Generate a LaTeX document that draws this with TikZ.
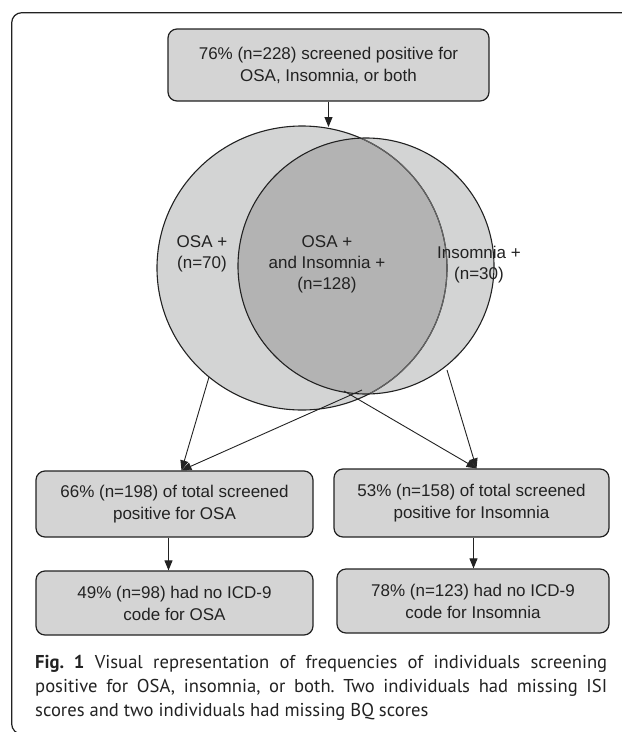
\documentclass[tikz,border=0pt]{standalone}
\usepackage{fontspec}
\setmainfont{Liberation Sans}
\newfontfamily\capfont{PT Sans}
\usetikzlibrary{arrows.meta,positioning}
\definecolor{boxgray}{RGB}{212,212,212}
\definecolor{venlight}{RGB}{211,212,212}
\definecolor{vendark}{RGB}{179,179,179}
\definecolor{ink}{RGB}{34,34,34}
\definecolor{midline}{RGB}{100,100,100}

\begin{document}
\begin{tikzpicture}[x=1pt,y=-1pt,
  box/.style={draw=ink,fill=boxgray,rounded corners=9pt,line width=1.2pt,
    align=center,inner sep=0pt,text=ink,font=\fontsize{17}{22}\selectfont},
  arr/.style={-{Triangle[length=10pt,width=8pt]},line width=0.9pt,draw=ink},
  vlabel/.style={align=center,text=ink,font=\fontsize{17}{21}\selectfont}]

  \useasboundingbox (0,0) rectangle (622,732);
  \draw[ink,line width=1.2pt,rounded corners=10pt]
    (630,12.7) -- (11.7,12.7) -- (11.7,734) -- (630,734);

  \node[box,minimum width=321pt,minimum height=72pt] (top) at (328.5,65)
    {76\% (n=228) screened positive for\\OSA, Insomnia, or both};

  % venn
  \fill[venlight] (302,268) ellipse [x radius=145,y radius=142];
  \fill[venlight] (366,266) circle [radius=128];
  \begin{scope}
    \clip (302,268) ellipse [x radius=145,y radius=142];
    \fill[vendark] (366,266) circle [radius=128];
  \end{scope}
  \draw[ink,line width=1.1pt] (302,268) ellipse [x radius=145,y radius=142];
  \begin{scope}
    \clip (366,266) circle [radius=128];
    \draw[midline,line width=1.1pt] (302,268) ellipse [x radius=145,y radius=142];
  \end{scope}
  \draw[ink,line width=1.1pt] (366,266) circle [radius=128];

  \node[vlabel] (osaonly) at (202,254) {OSA +\\(n=70)};
  \node[vlabel] (both) at (327,264) {OSA +\\and Insomnia +\\(n=128)};
  \node[vlabel] (insonly) at (479,265) {Insomnia +\\(n=30)};

  \coordinate (vtop) at (328.5,127);
  \coordinate (vl) at (209,377);
  \coordinate (vm1) at (362,390);
  \coordinate (vm2) at (344,391);
  \coordinate (vr) at (447,370);

  \node[box,minimum width=277pt,minimum height=66pt] (osa) at (174.5,504)
    {66\% (n=198) of total screened\\positive for OSA};
  \node[box,minimum width=275pt,minimum height=68pt] (ins) at (471.5,503)
    {53\% (n=158) of total screened\\positive for Insomnia};
  \node[box,minimum width=277pt,minimum height=64pt] (osano) at (174.5,603)
    {49\% (n=98) had no ICD-9\\code for OSA};
  \node[box,minimum width=272pt,minimum height=64pt] (insno) at (473,601)
    {78\% (n=123) had no ICD-9\\code for Insomnia};

  \draw[arr] (top.south) -- (vtop);
  \draw[arr] (vl) -- ([xshift=7pt]osa.north);
  \draw[arr] (vm1) -- ([xshift=7pt]osa.north);
  \draw[arr] (vm2) -- ([xshift=5pt]ins.north);
  \draw[arr] (vr) -- ([xshift=5pt]ins.north);
  \draw[arr] ([xshift=-6pt]osa.south) -- ([xshift=-6pt]osa.south |- osano.north);
  \draw[arr] ([xshift=2pt]ins.south) -- ([xshift=2pt]ins.south |- insno.north);

  \node[anchor=north west,text width=572pt,align=justify,inner sep=0pt,text=ink,
    font=\capfont\fontsize{18.6}{24}\selectfont\frenchspacing] (caption) at (35,655)
    {\textbf{Fig.~1} Visual representation of frequencies of individuals screening\linebreak
     positive for OSA, insomnia, or both. Two individuals had missing ISI\linebreak
     scores and two individuals had missing BQ scores};
\end{tikzpicture}
\end{document}
